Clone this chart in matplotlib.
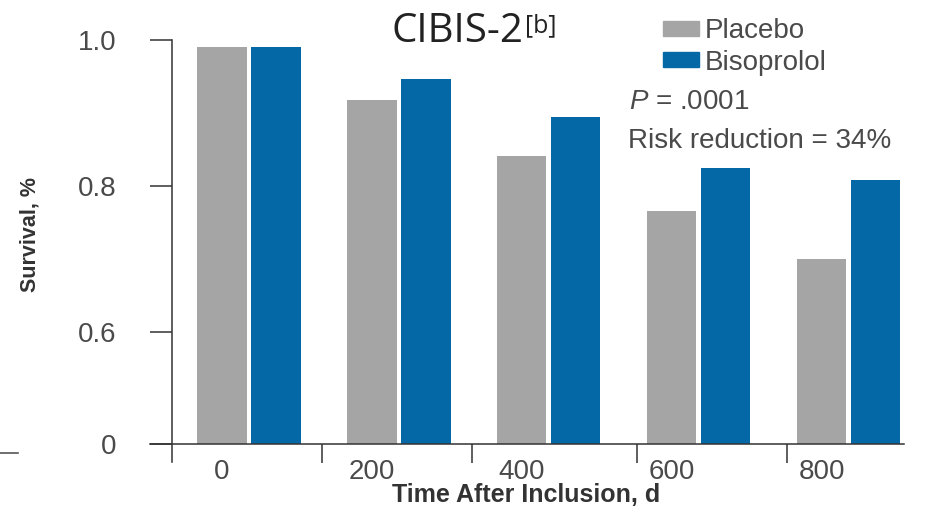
import numpy as np
import matplotlib.pyplot as plt
from matplotlib.patches import Patch
from matplotlib.lines import Line2D

plt.rcParams['font.family'] = ['Liberation Sans', 'DejaVu Sans']
plt.rcParams['mathtext.fontset'] = 'custom'
plt.rcParams['mathtext.rm'] = 'Liberation Sans'
plt.rcParams['mathtext.it'] = 'Liberation Sans:italic'

# data
days = ['0', '200', '400', '600', '800']
placebo = [0.99, 0.918, 0.841, 0.766, 0.70]
bisoprolol = [0.99, 0.947, 0.895, 0.825, 0.808]
yticks = [0, 0.6, 0.8, 1.0]
ytick_labels = ['0', '0.6', '0.8', '1.0']

gray = '#a5a5a5'
blue = '#0468a6'
txt = '#4a4a4a'

W, H = 940, 514


def fx(px):
    return px / W


def fy(py):
    return 1 - py / H


# broken y axis: 0 -> 0.6 squeezed
k = 0.2557


def fwd(y):
    y = np.asarray(y, dtype=float)
    return np.where(y >= 0.6, y, 0.6 - (0.6 - y) * k)


def inv(y):
    y = np.asarray(y, dtype=float)
    return np.where(y >= 0.6, y, 0.6 - (0.6 - y) / k)


fig = plt.figure(figsize=(9.4, 5.14), dpi=100)
ax = fig.add_axes([fx(150), fy(462), fx(904) - fx(150), fy(40) - fy(462)])

x = np.arange(len(days))
width = 0.327
ax.bar(x, placebo, width, color=gray, label='Placebo')
ax.bar(x + 0.36, bisoprolol, width, color=blue, label='Bisoprolol')

ax.set_yscale('function', functions=(fwd, inv))
ax.set_ylim(-0.0966, 1.0)
ax.set_xlim(-0.48, 4.547)

for s in ['top', 'right']:
    ax.spines[s].set_visible(False)
ax.spines['left'].set_position(('data', -1 / 3))
ax.spines['bottom'].set_position(('data', 0))
for s in ['left', 'bottom']:
    ax.spines[s].set_color('#333333')
    ax.spines[s].set_linewidth(1.1)

ax.set_yticks(yticks)
ax.set_yticklabels(ytick_labels)
ax.yaxis.set_minor_locator(plt.NullLocator())
ax.tick_params(axis='y', direction='out', length=15.8, width=1.1, color='#333333',
               labelsize=20, labelcolor=txt, pad=24)

ax.set_xticks(x)
ax.set_xticklabels(days)
# separators between groups (hand placed in the source, slightly uneven)
sep = [2 / 3, 5 / 3, 2.77, 3.77]
ax.set_xticks(sep, minor=True)
ax.tick_params(axis='x', which='major', length=0, labelsize=20, labelcolor=txt, pad=11)
ax.tick_params(axis='x', which='minor', direction='out', length=13.7, width=1.1, color='#333333')

handles = [Patch(color=gray), Patch(color=blue)]
ax.legend(handles, ['Placebo', 'Bisoprolol'], frameon=False, fontsize=20,
          loc='upper left', bbox_to_anchor=(fx(663), fy(18)), bbox_transform=fig.transFigure,
          borderpad=0, borderaxespad=0, handlelength=1.3, handleheight=0.45,
          handletextpad=0.2, labelspacing=0.2, labelcolor=txt)

fig.text(fx(629), fy(102), r'$P$ = .0001', fontsize=20, color=txt, va='center')
fig.text(fx(628), fy(141), 'Risk reduction = 34%', fontsize=20, color=txt, va='center')

title_font = ['Open Sans', 'DejaVu Sans']
t = fig.text(fx(392), fy(32), 'CIBIS-2', fontsize=29, family=title_font, color='#222222',
             va='center')
fig.canvas.draw()
bb = t.get_window_extent()
fig.text(bb.x1 / W + 0.001, fy(26), '[b]', fontsize=18, family=title_font, color='#222222',
         va='center')

lab_font = ['Liberation Sans Narrow', 'Liberation Sans', 'DejaVu Sans']
fig.text(fx(526), fy(495), 'Time After Inclusion, d', fontsize=18, family=lab_font,
         fontweight='bold', color='#333333', ha='center', va='center')
fig.text(fx(30), fy(235), 'Survival, %', fontsize=15.5, family=lab_font, fontweight='bold',
         color='#333333', ha='center', va='center', rotation=90)

# small stray dash at the left edge of the source image
fig.add_artist(Line2D([0, fx(18)], [fy(453), fy(453)], color='#555555', lw=1.2))

fig.savefig('out.png', dpi=100)
